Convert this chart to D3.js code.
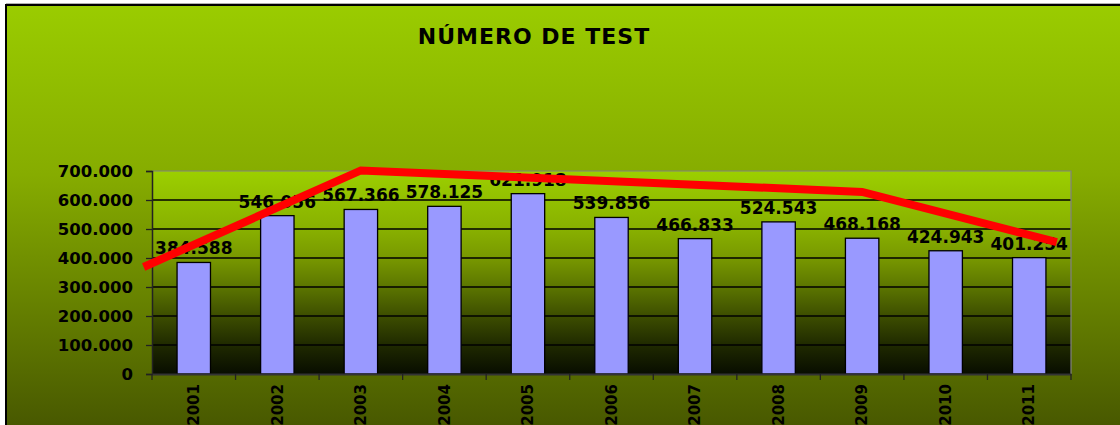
<!DOCTYPE html>
<html>
<head>
<meta charset="utf-8">
<script src="https://cdn.jsdelivr.net/npm/d3@7"></script>
<style>
  html, body { margin: 0; padding: 0; background: #fff; }
  svg { display: block; font-family: "DejaVu Sans", sans-serif; font-weight: bold; }
</style>
</head>
<body>
<svg id="chart"></svg>
<script>
// categorias y valores
const years = ["2001", "2002", "2003", "2004", "2005", "2006", "2007", "2008", "2009", "2010", "2011"];
const tests = [384588, 546056, 567366, 578125, 621918, 539856, 466833, 524543, 468168, 424943, 401254];
const yTicks = [0, 100000, 200000, 300000, 400000, 500000, 600000, 700000];

// linea roja dibujada encima (posicion en indice de categoria, valor)
const trendPos = [-0.6, 2, 8, 10.33];
const trendVal = [369000, 702000, 628000, 455000];

const width = 1120, height = 425;
const margin = { top: 171, right: 49, bottom: 51, left: 152 };
const plotW = width - margin.left - margin.right;
const plotH = height - margin.top - margin.bottom;

const fmt = d => d3.format(",")(d).replace(/,/g, ".");

const svg = d3.select("#chart").attr("width", width).attr("height", height);
const defs = svg.append("defs");

const outerGrad = defs.append("linearGradient").attr("id", "outer")
  .attr("x1", 0).attr("y1", 0).attr("x2", 0).attr("y2", 1);
outerGrad.append("stop").attr("offset", "0%").attr("stop-color", "#9acc00");
outerGrad.append("stop").attr("offset", "40%").attr("stop-color", "#86ac00");
outerGrad.append("stop").attr("offset", "100%").attr("stop-color", "#475700");

const plotGrad = defs.append("linearGradient").attr("id", "plotbg")
  .attr("x1", 0).attr("y1", 0).attr("x2", 0).attr("y2", 1);
plotGrad.append("stop").attr("offset", "0%").attr("stop-color", "#9ccf00");
plotGrad.append("stop").attr("offset", "29%").attr("stop-color", "#88b000");
plotGrad.append("stop").attr("offset", "43%").attr("stop-color", "#789800");
plotGrad.append("stop").attr("offset", "57%").attr("stop-color", "#5c7600");
plotGrad.append("stop").attr("offset", "71%").attr("stop-color", "#3e4f00");
plotGrad.append("stop").attr("offset", "86%").attr("stop-color", "#1f2900");
plotGrad.append("stop").attr("offset", "100%").attr("stop-color", "#080d00");

// fondo del grafico
svg.append("rect")
  .attr("x", 6).attr("y", 5).attr("width", width).attr("height", height)
  .attr("fill", "url(#outer)").attr("stroke", "#000").attr("stroke-width", 2);
svg.append("line").attr("x1", 6).attr("x2", width).attr("y1", 3.5).attr("y2", 3.5)
  .attr("stroke", "#b0b0b0").attr("stroke-width", 1);

// titulo
svg.append("text")
  .attr("x", 534).attr("y", 44)
  .attr("text-anchor", "middle")
  .attr("font-size", 22).attr("letter-spacing", 1)
  .text("NÚMERO DE TEST");

const x = d3.scaleBand().domain(years).range([0, plotW]).padding(0);
const xIdx = d3.scaleLinear().domain([0, 1])
  .range([x.bandwidth() / 2, x.bandwidth() * 1.5]);
const y = d3.scaleLinear().domain([0, 700000]).range([plotH, 0]);

const g = svg.append("g").attr("transform", `translate(${margin.left},${margin.top})`);

g.append("rect").attr("width", plotW).attr("height", plotH)
  .attr("fill", "url(#plotbg)");

// lineas de division
g.append("g").selectAll("line")
  .data(yTicks.slice(1, -1))
  .enter().append("line")
  .attr("x1", 0).attr("x2", plotW)
  .attr("y1", d => y(d)).attr("y2", d => y(d))
  .attr("stroke", "#000").attr("stroke-width", 1.3);

// borde del area
g.append("path")
  .attr("d", `M0,0H${plotW}V${plotH}`)
  .attr("fill", "none").attr("stroke", "#808080").attr("stroke-width", 1.2);

// eje Y
const yAxis = g.append("g")
  .call(d3.axisLeft(y).tickValues(yTicks).tickFormat(fmt).tickSize(6).tickPadding(13));
yAxis.select(".domain").attr("stroke", "#222").attr("stroke-width", 1.5);
yAxis.selectAll(".tick line").attr("stroke", "#222").attr("stroke-width", 1.3);
yAxis.selectAll("text")
  .attr("font-family", "DejaVu Sans").attr("font-weight", "bold")
  .attr("font-size", 16.5).attr("fill", "#000");

// barras
const barW = x.bandwidth() * 0.4;
g.append("g").selectAll("rect")
  .data(tests)
  .enter().append("rect")
  .attr("x", (d, i) => x(years[i]) + (x.bandwidth() - barW) / 2)
  .attr("y", d => y(d))
  .attr("width", barW)
  .attr("height", d => plotH - y(d))
  .attr("fill", "#9999ff")
  .attr("stroke", "#000").attr("stroke-width", 1.3);

// eje X
const xAxis = g.append("g").attr("transform", `translate(0,${plotH})`)
  .call(d3.axisBottom(x).tickSize(0).tickPadding(0));
xAxis.select(".domain").attr("stroke", "#333").attr("stroke-width", 2.2);
xAxis.selectAll(".tick text")
  .attr("transform", "rotate(-90)")
  .attr("text-anchor", "end")
  .attr("x", -10).attr("y", 0).attr("dy", "0.35em")
  .attr("font-family", "DejaVu Sans").attr("font-weight", "bold")
  .attr("font-size", 15).attr("fill", "#000");
xAxis.append("g").selectAll("line")
  .data(d3.range(years.length + 1))
  .enter().append("line")
  .attr("x1", i => i * x.bandwidth()).attr("x2", i => i * x.bandwidth())
  .attr("y1", 0).attr("y2", 6)
  .attr("stroke", "#222").attr("stroke-width", 1.3);

// etiquetas de datos
g.append("g").selectAll("text")
  .data(tests)
  .enter().append("text")
  .attr("x", (d, i) => x(years[i]) + x.bandwidth() / 2)
  .attr("y", d => y(d) - 8)
  .attr("text-anchor", "middle")
  .attr("font-size", 17)
  .attr("fill", "#000")
  .text(fmt);

// linea roja
const line = d3.line()
  .x((d, i) => xIdx(trendPos[i]))
  .y(d => y(d));
g.append("path")
  .datum(trendVal)
  .attr("d", line)
  .attr("fill", "none")
  .attr("stroke", "#ff0000")
  .attr("stroke-width", 8)
  .attr("stroke-linejoin", "miter");
</script>
</body>
</html>
